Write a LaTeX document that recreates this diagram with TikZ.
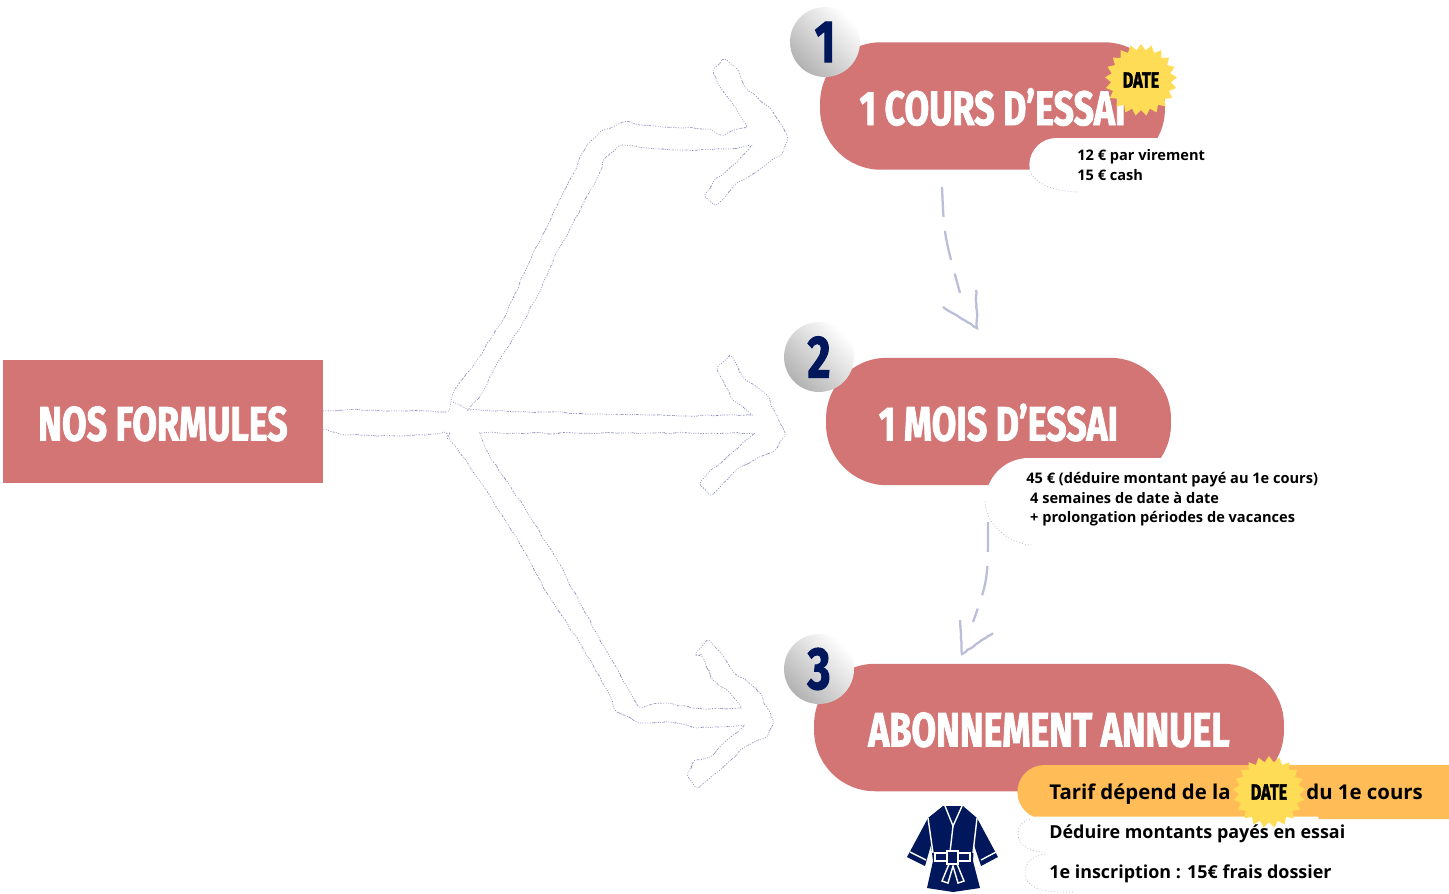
\documentclass[tikz,border=0pt]{standalone}
\usepackage{fontspec}
\setmainfont{Open Sans}
\newfontfamily\brushfont[FakeStretch=0.74,BoldFeatures={FakeBold=1.6}]{Fira Sans}
\usetikzlibrary{arrows.meta,positioning,shapes.geometric,shapes.misc,decorations.pathmorphing}

\definecolor{cardrose}{HTML}{D37575}
\definecolor{inknavy}{HTML}{00175C}
\definecolor{stargold}{HTML}{FFDC55}
\definecolor{barorange}{HTML}{FFBC57}
\definecolor{chalkblue}{HTML}{8E93BE}

\begin{document}
\begin{tikzpicture}[
    x=0.02cm,
    y=-0.02cm,
    every node/.style={font=\bfseries},
    card/.style={
        rectangle,
        rounded corners=1.22cm,
        fill=cardrose,
        text=white,
        minimum height=2.55cm,
        text height=0.78cm,
        inner sep=0pt,
        font=\brushfont\bfseries\fontsize{27.5pt}{30pt}\selectfont
    },
    badge/.style={
        circle,
        minimum size=1.4cm,
        inner sep=0pt,
        left color=white,
        right color=black!30,
        shading angle=-45,
        text=inknavy,
        font=\brushfont\bfseries\fontsize{34pt}{36pt}\selectfont
    },
    burst/.style={
        star,
        star points=21,
        star point ratio=1.2,
        minimum size=1.44cm,
        inner sep=0pt,
        fill=stargold,
        text=black,
        font=\brushfont\bfseries\fontsize{12.5pt}{13pt}\selectfont
    },
    blob/.style={
        rounded rectangle,
        rounded rectangle right arc=none,
        fill=white,
        inner sep=0pt,
        anchor=west
    },
    small/.style={anchor=west, inner sep=0pt, align=left, font=\bfseries\fontsize{8.3pt}{11.1pt}\selectfont},
    large/.style={anchor=base west, inner sep=0pt, font=\bfseries\fontsize{11.6pt}{13pt}\selectfont},
    plain/.style={anchor=base west, inner sep=0pt, font=\bfseries\fontsize{10.2pt}{13pt}\selectfont},
    chalk/.style={
        draw=chalkblue,
        line width=0.4pt,
        dash pattern=on 0.5pt off 0.9pt,
        rounded corners=2pt,
        decorate,
        decoration={random steps, segment length=3pt, amplitude=0.6pt}
    },
    hint/.style={draw=chalkblue!70, line width=0.35pt, dash pattern=on 0.5pt off 1.2pt},
    stroke/.style={
        draw=chalkblue!60,
        line width=1.3pt,
        dash pattern=on 17pt off 8pt
    },
    barb/.style={
        draw=chalkblue!60,
        line width=1.3pt,
        decorate,
        decoration={random steps, segment length=2pt, amplitude=0.3pt}
    },
    seam/.style={draw=white, line width=0.8pt}
]
\useasboundingbox (0,0) rectangle (1449,893);
\pgfmathsetseed{7}

% chalk arrows
\draw[chalk] plot coordinates {(323,411) (345,410) (400,411) (447,412) (453,393) (477,360) (502,322) (527,267) (563,193) (587,145) (600,132) (623,122) (663,127) (707,129) (720,135) (747,127) (737,110) (720,87) (713,72) (723,59) (735,67) (745,87) (770,108) (787,135) (783,152) (763,167) (737,183) (717,205) (705,197) (713,182) (737,162) (752,145) (730,149) (680,150) (647,148) (622,145) (605,158) (597,178) (572,225) (558,250) (537,297) (520,328) (498,362) (482,393) (468,410)};
\draw[chalk] plot coordinates {(468,410) (600,414) (680,416) (753,415) (733,400) (717,370) (730,355) (743,377) (767,395) (785,433) (777,448) (740,467) (712,495) (700,485) (708,473) (733,452) (755,433) (650,433) (480,433)};
\draw[chalk] plot coordinates {(480,433) (490,457) (508,483) (530,517) (557,560) (580,603) (610,657) (627,687) (638,706) (667,703) (703,709) (742,708) (730,693) (713,680) (703,657) (695,655) (707,640) (720,652) (732,670) (760,693) (773,720) (768,735) (743,748) (720,770) (698,788) (688,777) (693,762) (710,757) (727,740) (745,725) (697,728) (670,722) (640,723) (617,712) (607,690) (580,643) (550,598) (517,538) (477,477) (450,440) (447,433) (400,436) (345,435) (323,429)};
\draw[chalk] (453,402) -- (468,410);

% cards
\node[card, rectangle, rounded corners=0pt, minimum width=6.4cm, minimum height=2.46cm] (formules) at (163,421.5) {NOS FORMULES};
\node[card, minimum width=6.9cm] (essai) at (992.5,106) {1 COURS D’ESSAI};
\node[card, minimum width=6.9cm] (mois) at (998.5,421.5) {1 MOIS D’ESSAI};
\node[card, minimum width=9.4cm] (annuel) at (1049,727.5) {ABONNEMENT ANNUEL};

% badges
\node[badge] (one) at (825,42) {1};
\node[badge] (two) at (819,357) {2};
\node[badge] (three) at (819,669) {3};

% notes
\node[blob, minimum height=1.08cm, minimum width=3.6cm] (blobessai) at (1029,165) {};
\node[blob, minimum height=1.74cm, minimum width=6.7cm] (blobmois) at (985,501.5) {};
\node[blob, minimum height=1.08cm, minimum width=8.64cm, fill=barorange] (bar) at (1017,792) {};
\node[blob, minimum height=0.7cm, minimum width=6cm] (blobdeduire) at (1018,834) {};
\node[blob, minimum height=0.78cm, minimum width=6cm] (blobdossier) at (1025,872) {};

\coordinate (endessai) at (1078,192);
\coordinate (endmois) at (1033,545);
\coordinate (enddeduire) at (1045,852);
\coordinate (enddossier) at (1075,892);
\coordinate (startdeduire) at (1030,819);
\coordinate (startdossier) at (1045,854);
\draw[hint] (blobessai.west) to[out=-90,in=180,looseness=0.9] (endessai);
\draw[hint] (blobmois.west) to[out=-90,in=180,looseness=0.9] (endmois);
\draw[hint] (startdeduire) to[out=190,in=90] (blobdeduire.west) to[out=-90,in=180] (enddeduire);
\draw[hint] (startdossier) to[out=190,in=90] (blobdossier.west) to[out=-90,in=180] (enddossier);

% stars
\node[burst] (dateessai) at (1141,80) {DATE};
\node[burst] (datetarif) at (1269,792) {DATE};

% texts
\node[small] (prixessai) at (1077,165) {12 € par virement\\15 € cash};
\node[small] (prixmois) at (1026,499.5) {45 € (déduire montant payé au 1e cours)\\\hspace*{2.2pt}4 semaines de date à date\\\hspace*{2.2pt}+ prolongation périodes de vacances};
\node[large] (tarif) at (1049,799) {Tarif dépend de la};
\node[large] (cours) at (1306,799) {du 1e cours};
\node[plain] (deduire) at (1049,838) {Déduire montants payés en essai};
\node[plain] (dossier) at (1049,878) {1e inscription : 15€ frais dossier};

% chalk strokes between cards
\coordinate (essaifoot) at (942,187);
\coordinate (essaibend) at (944,235);
\coordinate (moistop) at (960,293);
\coordinate (moistip) at (977,328);
\coordinate (moisleft) at (943,307);
\coordinate (moisright) at (976,290);
\draw[stroke] (essaifoot) .. controls (essaibend) .. (moistop);
\draw[barb] (moisright) -- (moistip) -- (moisleft);

\coordinate (moisfoot) at (988,522);
\coordinate (moisbend) at (988,580);
\coordinate (annueltop) at (973,622);
\coordinate (annueltip) at (962,654);
\coordinate (annuelleft) at (960,620);
\coordinate (annuelright) at (993,633);
\draw[stroke] (moisfoot) .. controls (moisbend) .. (annueltop);
\draw[barb] (annuelleft) -- (annueltip) -- (annuelright);

% kimono
\fill[inknavy] (943,806) -- (963,806) -- (977,818) -- (998,857) -- (981,866) -- (974,845) -- (973,861) -- (980,888) -- (953,892) -- (927,888) -- (933,861) -- (931,845) -- (925,866) -- (907,857) -- (928,818) -- cycle;
\draw[seam] (945,806) -- (953,826) -- (962,806);
\draw[seam] (953,826) -- (950,852);
\draw[seam] (928,818) -- (933,853) (977,818) -- (973,853);
\draw[seam, fill=inknavy] (935,853) rectangle (970,861);
\draw[seam, fill=inknavy] (947,851) rectangle (958,864);
\draw[seam] (949,864) -- (942,881) -- (948,883) -- (953,866) -- (958,883) -- (964,881) -- (957,864);
\draw[seam] (910,852) -- (926,860) (996,852) -- (981,860);

\end{tikzpicture}
\end{document}
